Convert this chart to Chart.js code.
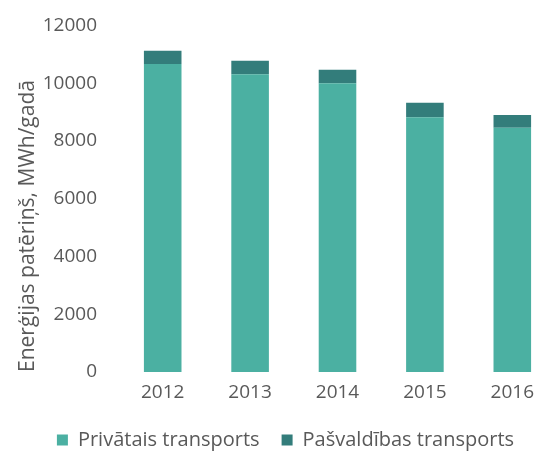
<!DOCTYPE html>
<html>
<head>
<meta charset="utf-8">
<script src="https://cdn.jsdelivr.net/npm/chart.js@4/dist/chart.umd.min.js"></script>
<style>
html,body{margin:0;padding:0;background:#fff;overflow:hidden;width:536px;height:454px;}
#wrap{width:556px;height:460px;position:relative;}
</style>
</head>
<body>
<div id="wrap"><canvas id="c" width="556" height="460"></canvas></div>
<script>
const categories = ["2012", "2013", "2014", "2015", "2016"];
const privatais = [10660, 10310, 10000, 8820, 8460];
const pasvaldibas = [460, 470, 465, 500, 435];
const yTicks = [0, 2000, 4000, 6000, 8000, 10000, 12000];

const textColor = "#595959";
const family = "'Open Sans', sans-serif";
const tickFont = {family: family, size: 19};
const titleFont = {family: family, size: 21};
const legendFont = {family: family, size: 20};

new Chart(document.getElementById("c"), {
  type: "bar",
  data: {
    labels: categories,
    datasets: [
      {label: "Privātais transports", data: privatais, backgroundColor: "#4bb0a2", borderWidth: 0},
      {label: "Pašvaldības transports", data: pasvaldibas, backgroundColor: "#337d7b", borderWidth: 0}
    ]
  },
  options: {
    responsive: false,
    animation: false,
    devicePixelRatio: 1,
    layout: {padding: {top: 12, left: 15, right: 0, bottom: 0}},
    datasets: {bar: {categoryPercentage: 1, barPercentage: 0.43}},
    plugins: {
      tooltip: {enabled: false},
      legend: {
        position: "bottom",
        labels: {
          color: textColor,
          font: legendFont,
          boxWidth: 11,
          boxHeight: 11,
          padding: 22
        }
      }
    },
    scales: {
      x: {
        stacked: true,
        grid: {display: false},
        border: {display: false},
        ticks: {color: textColor, font: tickFont, padding: 1},
        afterFit: (a) => { a.height = 36; }
      },
      y: {
        stacked: true,
        min: 0,
        max: 12000,
        afterBuildTicks: (axis) => { axis.ticks = yTicks.map(v => ({value: v})); },
        afterFit: (a) => { a.width = 104; },
        grid: {display: false},
        border: {display: false},
        ticks: {color: textColor, font: tickFont, padding: 14, callback: (v) => String(v)},
        title: {display: true, align: "start", text: "Enerģijas patēriņš, MWh/gadā", color: textColor, font: titleFont, padding: {top: 0, bottom: 0}}
      }
    }
  }
});
</script>
</body>
</html>
